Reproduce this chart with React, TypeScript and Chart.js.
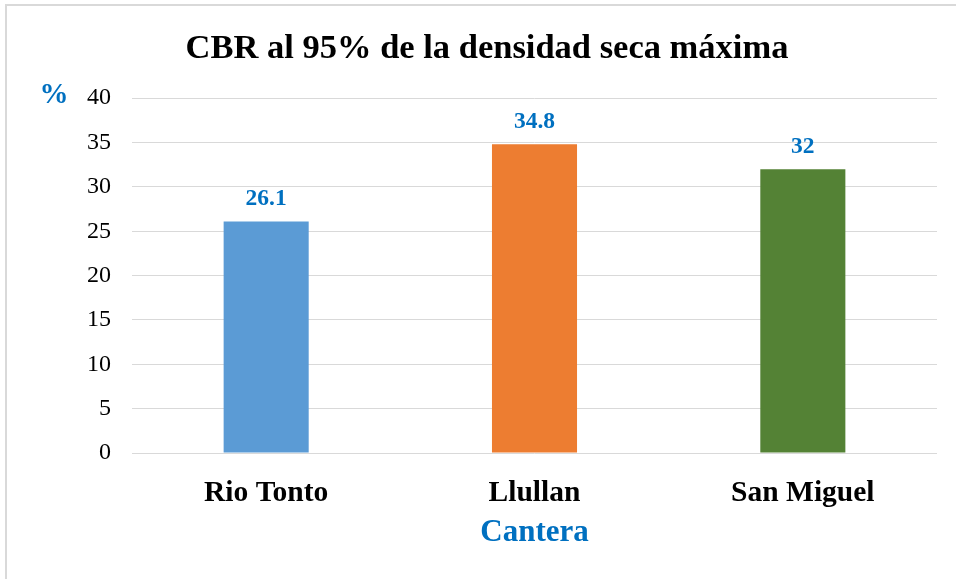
import React, { useEffect, useRef } from "react";
import { Chart, registerables } from "chart.js";

Chart.register(...registerables);

const TITLE = "CBR al 95% de la densidad seca máxima";
const CATEGORIES = ["Rio Tonto", "Llullan", "San Miguel"];
const VALUES = [26.1, 34.8, 32];
const BAR_COLORS = ["#5B9BD5", "#ED7D31", "#548235"];
const Y_MIN = 0;
const Y_MAX = 40;
const Y_STEP = 5;
const X_TITLE = "Cantera";
const Y_TITLE = "%";

const FONT = "'Liberation Serif', 'Times New Roman', serif";
const BLUE = "#0070C0";

export default function App() {
  const ref = useRef<HTMLCanvasElement | null>(null);

  useEffect(() => {
    if (!ref.current) return;
    const framePlugin = {
      id: "frame",
      beforeDraw(chart: any) {
        const ctx = chart.ctx;
        ctx.save();
        ctx.fillStyle = "#ffffff";
        ctx.fillRect(0, 0, chart.width, chart.height);
        ctx.fillStyle = "#d9d9d9";
        ctx.fillRect(5, 4, 2, chart.height - 4);
        ctx.fillRect(5, 4, chart.width - 5, 2);
        ctx.restore();
      },
    };
    const labelPlugin = {
      id: "valueLabels",
      afterDatasetsDraw(chart: any) {
        const ctx = chart.ctx;
        const meta = chart.getDatasetMeta(0);
        ctx.save();
        ctx.fillStyle = BLUE;
        ctx.font = `bold 23.5px ${FONT}`;
        ctx.textAlign = "center";
        ctx.textBaseline = "alphabetic";
        meta.data.forEach((bar: any, i: number) => {
          ctx.fillText(String(VALUES[i]), bar.x, bar.y - 16);
        });
        // y axis unit label
        const area = chart.chartArea;
        ctx.font = `bold 29px ${FONT}`;
        ctx.fillText(Y_TITLE, area.left - 78, area.top + 5);
        ctx.restore();
      },
    };

    const chart = new Chart(ref.current, {
      type: "bar",
      data: {
        labels: CATEGORIES,
        datasets: [
          {
            data: VALUES,
            backgroundColor: BAR_COLORS,
            borderWidth: 0,
            barPercentage: 0.317,
            categoryPercentage: 1,
          },
        ],
      },
      options: {
        responsive: false,
        animation: false,
        devicePixelRatio: 1,
        layout: { padding: { top: 0, right: 19, bottom: 0, left: 37 } },
        plugins: {
          legend: { display: false },
          tooltip: { enabled: false },
          title: {
            display: true,
            text: TITLE,
            color: "#000000",
            font: { family: FONT, size: 34.5, weight: "bold" },
            padding: { top: 28.5, bottom: 28.3 },
          },
        },
        scales: {
          x: {
            grid: { display: false },
            border: { display: false },
            ticks: {
              color: "#000000",
              font: { family: FONT, size: 29.5, weight: "bold" },
              padding: 15,
              maxRotation: 0,
            },
            title: {
              display: true,
              text: X_TITLE,
              color: BLUE,
              font: { family: FONT, size: 31, weight: "bold" },
              padding: { top: 0, bottom: 27.5 },
            },
            afterFit(scale: any) {
              scale.height = 126;
            },
          },
          y: {
            min: Y_MIN,
            max: Y_MAX,
            grid: { color: "#d9d9d9", lineWidth: 1, drawTicks: false },
            border: { display: false },
            ticks: {
              stepSize: Y_STEP,
              color: "#000000",
              font: { family: FONT, size: 24 },
              padding: 21,
            },
            afterFit(scale: any) {
              scale.width = 95;
            },
          },
        },
      },
      plugins: [framePlugin, labelPlugin],
    });
    return () => chart.destroy();
  }, []);

  return (
    <div style={{ position: "absolute", left: 0, top: 0, width: 956, height: 579 }}>
      <canvas ref={ref} width={956} height={579} />
    </div>
  );
}
